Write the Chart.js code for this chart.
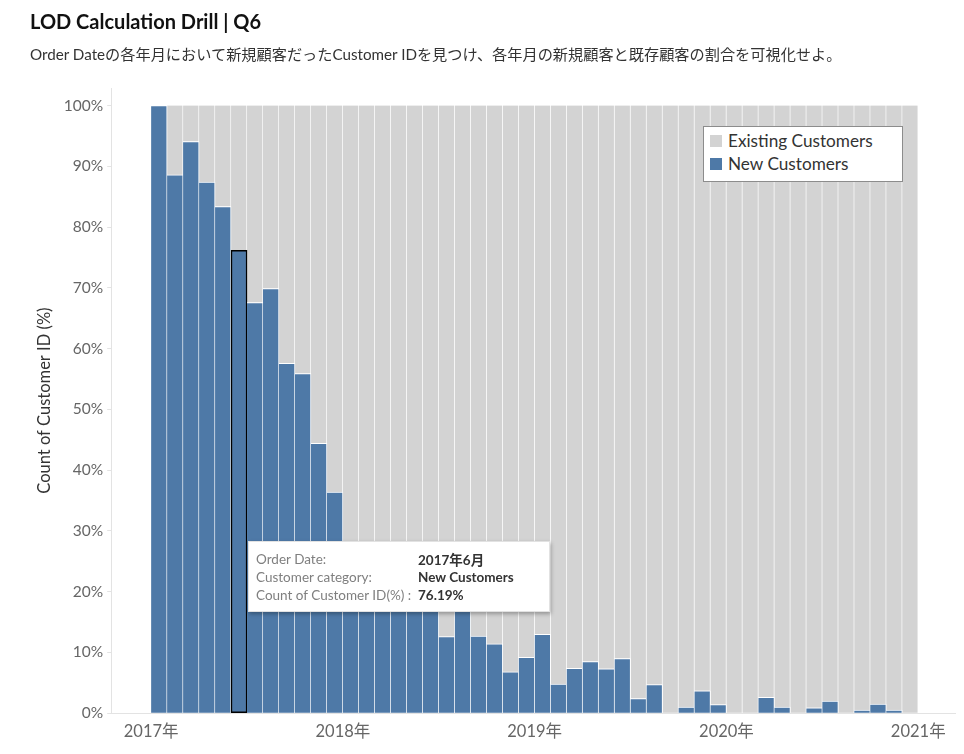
<!DOCTYPE html>
<html>
<head>
<meta charset="utf-8">
<script src="https://cdn.jsdelivr.net/npm/chart.js@4.4.1/dist/chart.umd.min.js"></script>
<style>
  body { margin: 0; background: #fff; font-family: Lato, "Noto Sans CJK JP", sans-serif; }
  #wrap { position: relative; width: 964px; height: 754px; overflow: hidden; }
  #chart { position: absolute; left: 0; top: 0; }
  .title { position: absolute; left: 30px; top: 9px; font-size: 20px; font-weight: 700; color: #111; }
  .subtitle { position: absolute; left: 30px; top: 42px; font-size: 15.2px; color: #333; }
  #legend { position: absolute; left: 703px; top: 126px; width: 198px; height: 52px;
    background: #fff; border: 1px solid #8c8c8c; padding-top: 2px; }
  #legend .item { display: flex; align-items: center; height: 23px; font-size: 17.2px; color: #333; }
  #legend .sw { width: 12px; height: 12px; margin: 0 6px 0 6px; }
  #tip { position: absolute; display: none; width: 302px; height: 71px; background: #fff;
    border: 1px solid #e2e2e2; box-shadow: 1px 2px 4px rgba(0,0,0,0.3); font-size: 13.5px;
    box-sizing: border-box; padding: 8px 7px; }
  #tip .row { display: flex; height: 18px; align-items: center; }
  #tip .k { width: 162px; color: #7f7f7f; white-space: nowrap; }
  #tip .v { color: #333; font-weight: 700; }
</style>
</head>
<body>
<div id="wrap">
  <canvas id="chart" width="964" height="754"></canvas>
  <div class="title">LOD Calculation Drill | Q6</div>
  <div class="subtitle">Order Dateの各年月において新規顧客だったCustomer IDを見つけ、各年月の新規顧客と既存顧客の割合を可視化せよ。</div>
  <div id="legend"></div>
  <div id="tip"></div>
</div>
<script>
const years = ["2017年", "2018年", "2019年", "2020年", "2021年"];

const monthLabels = [];
for (let y = 2017; y <= 2020; y++) {
  for (let m = 1; m <= 12; m++) monthLabels.push(y + "年" + m + "月");
}

// share of New Customers per month (%)
const newPct = [
  100, 88.6, 94.1, 87.4, 83.4, 76.19, 67.6, 69.9, 57.6, 55.9, 44.4, 36.4,
  26.8, 24.5, 22.0, 20.6, 19.3, 18.2, 12.6, 17.4, 12.7, 11.4, 6.8, 9.2,
  13.0, 4.8, 7.4, 8.5, 7.3, 9.0, 2.4, 4.7, 0, 1.0, 3.7, 1.4,
  0, 0, 2.6, 1.0, 0, 0.9, 2.0, 0, 0.5, 1.5, 0.5, 0
];

// share of Existing Customers per month (%)
const existingPct = [
  0, 11.4, 5.9, 12.6, 16.6, 23.81, 32.4, 30.1, 42.4, 44.1, 55.6, 63.6,
  73.2, 75.5, 78.0, 79.4, 80.7, 81.8, 87.4, 82.6, 87.3, 88.6, 93.2, 90.8,
  87.0, 95.2, 92.6, 91.5, 92.7, 91.0, 97.6, 95.3, 100, 99.0, 96.3, 98.6,
  100, 100, 97.4, 99.0, 100, 99.1, 98.0, 100, 99.5, 98.5, 99.5, 100
];

const yTicks = [0, 10, 20, 30, 40, 50, 60, 70, 80, 90, 100];
const selectedIndex = 5;

const BLUE = "#4e79a7";
const GRAY = "#d3d3d3";
const FONT = "Lato, 'Noto Sans CJK JP', sans-serif";

const toPoints = (arr) => arr.map((v, i) => ({ x: i + 0.5, y: v }));

const datasets = [
  {
    label: "New Customers",
    data: toPoints(newPct),
    backgroundColor: BLUE,
    borderColor: (c) => (c.dataIndex === selectedIndex ? "#000" : "#fff"),
    borderWidth: (c) =>
      c.dataIndex === selectedIndex
        ? 1.5
        : { top: 1, right: 1, left: 0, bottom: 0 },
    borderSkipped: (c) => (c.dataIndex === selectedIndex ? false : "start"),
  },
  {
    label: "Existing Customers",
    data: toPoints(existingPct),
    backgroundColor: GRAY,
    borderColor: "#fff",
    borderWidth: { top: 0, right: 1, left: 0, bottom: 0 },
  },
];

// legend (Existing first, as in the view)
const legendEl = document.getElementById("legend");
datasets.slice().reverse().forEach((d) => {
  const item = document.createElement("div");
  item.className = "item";
  item.innerHTML = '<span class="sw" style="background:' + d.backgroundColor + '"></span>' + d.label;
  legendEl.appendChild(item);
});

Chart.Tooltip.positioners.pinned = function (elements, eventPosition) {
  if (!elements.length) return false;
  return { x: elements[0].element.x, y: eventPosition.y };
};

function externalTip(context) {
  const tip = context.tooltip;
  const el = document.getElementById("tip");
  if (tip.opacity === 0 || !tip.dataPoints || !tip.dataPoints.length) {
    el.style.display = "none";
    return;
  }
  const p = tip.dataPoints[0];
  const rows = [
    ["Order Date:", monthLabels[p.dataIndex]],
    ["Customer category:", p.dataset.label],
    ["Count of Customer ID(%) :", p.parsed.y.toFixed(2) + "%"],
  ];
  el.innerHTML = rows
    .map((r) => '<div class="row"><span class="k">' + r[0] + '</span><span class="v">' + r[1] + "</span></div>")
    .join("");
  el.style.display = "block";
  el.style.left = tip.caretX + 9 + "px";
  el.style.top = tip.caretY + "px";
}

const chart = new Chart(document.getElementById("chart"), {
  type: "bar",
  data: { datasets: datasets },
  options: {
    responsive: false,
    animation: false,
    events: [],
    layout: { padding: { top: 88, left: 30, right: 9, bottom: 3 } },
    datasets: {
      bar: { barPercentage: 1, categoryPercentage: 1 },
    },
    scales: {
      x: {
        type: "linear",
        stacked: true,
        offset: false,
        min: -2.5,
        max: 50.3,
        grid: { display: false, drawTicks: false },
        border: { display: true, color: "#e3e3e3" },
        afterBuildTicks: (axis) => {
          axis.ticks = years.map((_, i) => ({ value: i * 12 }));
        },
        ticks: {
          color: "#666",
          font: { family: FONT, size: 16.5 },
          padding: 9,
          maxRotation: 0,
          autoSkip: false,
          callback: (v) => years[v / 12],
        },
      },
      y: {
        stacked: true,
        min: 0,
        max: 102.9,
        grid: { drawOnChartArea: false, tickLength: 4, color: "#e3e3e3" },
        border: { display: true, color: "#e3e3e3" },
        afterBuildTicks: (axis) => {
          axis.ticks = yTicks.map((v) => ({ value: v }));
        },
        ticks: {
          color: "#666",
          font: { family: FONT, size: 15.5 },
          padding: 4,
          callback: (v) => v + "%",
        },
        title: {
          display: true,
          text: "Count of Customer ID (%)",
          color: "#333",
          font: { family: FONT, size: 16.5 },
          padding: { top: 5, bottom: 5 },
        },
      },
    },
    plugins: {
      legend: { display: false },
      tooltip: {
        enabled: false,
        position: "pinned",
        external: externalTip,
      },
    },
  },
});

// show the tooltip for the selected month, as in the reference
chart.tooltip.setActiveElements(
  [{ datasetIndex: 0, index: selectedIndex }],
  { x: 0, y: chart.scales.y.getPixelForValue(28.3) }
);
chart.update("none");
</script>
</body>
</html>
